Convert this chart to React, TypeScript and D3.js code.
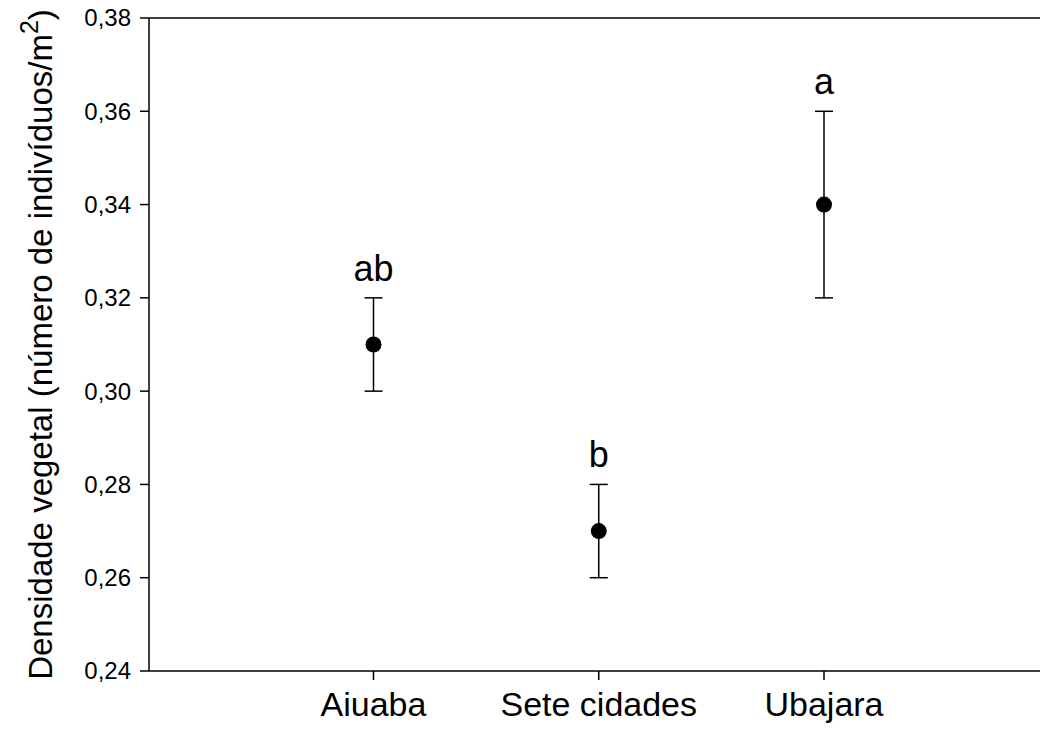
import React from "react";
import * as d3 from "d3";

const categories = ["Aiuaba", "Sete cidades", "Ubajara"];
const means = [0.31, 0.27, 0.34];
const lower = [0.30, 0.26, 0.32];
const upper = [0.32, 0.28, 0.36];
const letters = ["ab", "b", "a"];
const yTicks = [0.24, 0.26, 0.28, 0.30, 0.32, 0.34, 0.36, 0.38];

const W = 1040, H = 738;
const L = 149, R = 1040, T = 18, B = 671;

export default function App() {
  const y = d3.scaleLinear().domain([0.24, 0.38]).range([B, T]);
  const x = d3.scalePoint<string>().domain(categories).range([373.5, 824]);
  const font = "'Liberation Sans', Arial, sans-serif";
  return (
    <svg width={W} height={H} style={{ position: "absolute", left: 0, top: 0 }} fontFamily={font}>
      <rect width={W} height={H} fill="#fff" />
      <line x1={L} x2={R} y1={T} y2={T} stroke="#000" strokeWidth={1.5} />
      <line x1={L} x2={R} y1={B} y2={B} stroke="#000" strokeWidth={1.5} />
      <line x1={L} x2={L} y1={T} y2={B} stroke="#000" strokeWidth={1.5} />
      {yTicks.map((t) => (
        <g key={t}>
          <line x1={L - 9} x2={L} y1={y(t)} y2={y(t)} stroke="#000" strokeWidth={1.5} />
          <text x={L - 18} y={y(t)} dy="0.35em" textAnchor="end" fontSize={24}>
            {t.toFixed(2).replace(".", ",")}
          </text>
        </g>
      ))}
      {categories.map((c, i) => {
        const cx = x(c)!;
        return (
          <g key={c}>
            <line x1={cx} x2={cx} y1={B} y2={B + 9} stroke="#000" strokeWidth={1.5} />
            <text x={cx} y={716} textAnchor="middle" fontSize={34}>{c}</text>
            <line x1={cx} x2={cx} y1={y(lower[i])} y2={y(upper[i])} stroke="#000" strokeWidth={1.5} />
            <line x1={cx - 9} x2={cx + 9} y1={y(lower[i])} y2={y(lower[i])} stroke="#000" strokeWidth={1.5} />
            <line x1={cx - 9} x2={cx + 9} y1={y(upper[i])} y2={y(upper[i])} stroke="#000" strokeWidth={1.5} />
            <circle cx={cx} cy={y(means[i])} r={8} fill="#000" />
            <text x={cx} y={y(upper[i]) - 17} textAnchor="middle" fontSize={36}>{letters[i]}</text>
          </g>
        );
      })}
      <text transform={`translate(52,${(T + B) / 2}) rotate(-90)`} textAnchor="middle" fontSize={33}>
        Densidade vegetal (número de indivíduos/m
        <tspan dy={-14} fontSize={25}>2</tspan>
        <tspan dy={14}>)</tspan>
      </text>
    </svg>
  );
}
